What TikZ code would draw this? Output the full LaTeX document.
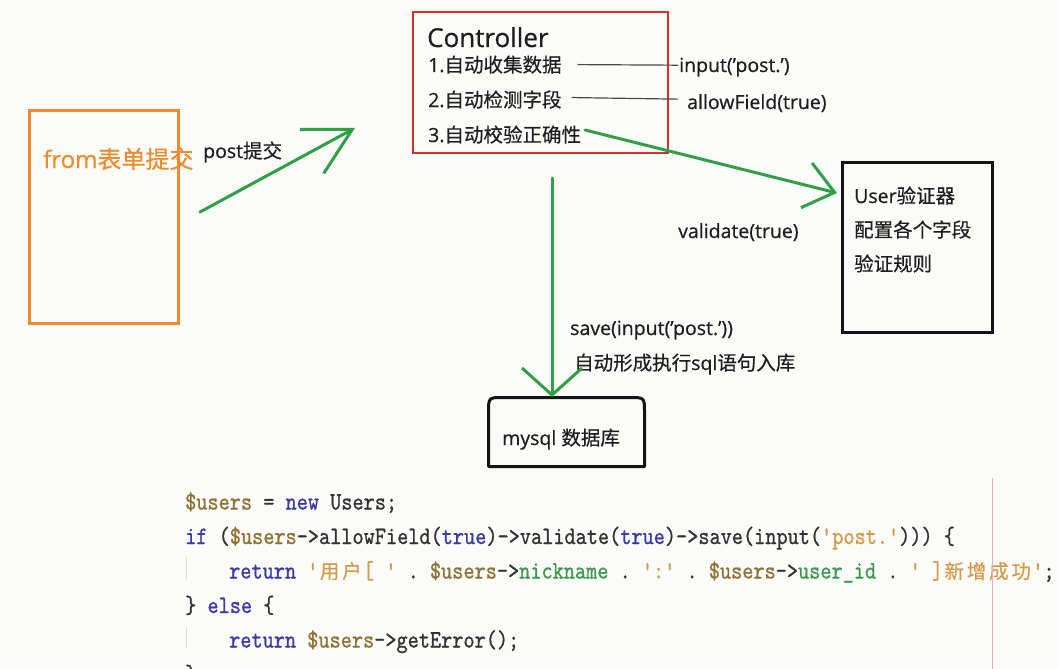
\documentclass[tikz,border=0pt]{standalone}
\usepackage{fontspec}
\setmainfont{Open Sans}[FakeBold=0.6]
\newfontfamily\cjk{Noto Sans CJK SC}[FakeBold=0.4]
\newfontfamily\codefont{lmmono10-regular.otf}[FakeStretch=0.85,FakeBold=0.8]
\usetikzlibrary{arrows.meta}
\definecolor{bg}{HTML}{FBFBF9}
\definecolor{txt}{HTML}{1E1E1E}
\definecolor{orangec}{HTML}{F08A2C}
\definecolor{greenc}{HTML}{2EA046}
\definecolor{redc}{HTML}{D9302C}
\definecolor{boxk}{HTML}{141414}
\definecolor{linec}{HTML}{4A4A4A}
\definecolor{kwc}{HTML}{3A3AAA}
\definecolor{varc}{HTML}{8F7236}
\definecolor{strc}{HTML}{D49A48}
\definecolor{idc}{HTML}{3C9A4E}
\definecolor{codec}{HTML}{333333}
\definecolor{redguide}{HTML}{EBB0B0}
\definecolor{grayguide}{HTML}{DDDDDD}
\newcommand\ckw[1]{\textcolor{kwc}{#1}}
\newcommand\cvar[1]{\textcolor{varc}{#1}}
\newcommand\cstr[1]{\textcolor{strc}{#1}}
\newcommand\cidn[1]{\textcolor{idc}{#1}}
\newlength\cwid \setlength\cwid{11.15pt}
\newcommand\Sp{\hbox to \cwid{}}
\newcommand\ccj[1]{\makebox[2\cwid][c]{\cjk\fontsize{19.5}{19.5}\selectfont #1}}
\newcommand\codesetup{\codefont\fontsize{25}{25}\selectfont}
\begin{document}
\begin{tikzpicture}[x=1pt,y=-1pt,
  lbl/.style={font=\fontsize{19.5}{20}\selectfont, text=txt, inner sep=0pt, anchor=base west},
  boxn/.style={inner sep=0pt, line width=3pt},
  garrow/.style={draw=greenc, line width=3pt, line cap=round, line join=round},
  thinl/.style={draw=linec, line width=1.2pt},
  code/.style={font=\codesetup, text=codec, inner sep=0pt, anchor=base west}]
\useasboundingbox (0,0) rectangle (1058,669);
\fill[bg] (0,0) rectangle (1058,669);

% boxes
\node[boxn, draw=orangec, minimum width=149pt, minimum height=213pt] (form) at (103.5,216.5) {};
\node[boxn, draw=redc, line width=2.6pt, minimum width=255pt, minimum height=141pt] (ctrl) at (540.5,82.5) {};
\node[boxn, draw=boxk, minimum width=150pt, minimum height=170pt] (user) at (917,247) {};
\node[boxn, minimum width=153pt, minimum height=66pt] (db) at (566.5,432) {};
\draw[boxk, line width=3pt, line join=round]
  (db.south west) -- ([yshift=-15pt]db.north west)
  .. controls (db.north west) .. ([xshift=15pt]db.north west)
  -- ([xshift=-15pt]db.north east)
  .. controls (db.north east) .. ([yshift=-15pt]db.north east)
  -- (db.south east) -- cycle;

% texts
\node[lbl, font=\fontsize{24}{24}\selectfont, text=orangec] (formt) at (43,168) {from{\cjk 表单提交}};
\node[lbl] (postt) at (203,158) {post{\cjk 提交}};
\node[lbl, font=\fontsize{26}{26}\selectfont] (ctrlt) at (427,47) {Controller};
\node[lbl] (c1) at (428,72) {1.{\cjk 自动收集数据}};
\node[lbl] (c2) at (428,107) {2.{\cjk 自动检测字段}};
\node[lbl] (c3) at (428,142) {3.{\cjk 自动校验正确性}};
\node[lbl] (inp) at (679,72) {input('post.')};
\node[lbl] (allow) at (687,109) {allowField(true)};
\node[lbl] (valid) at (678,238) {validate(true)};
\node[lbl] (u1t) at (854,203) {User{\cjk 验证器}};
\node[lbl] (u2t) at (854,237) {\cjk 配置各个字段};
\node[lbl] (u3t) at (854,271) {\cjk 验证规则};
\node[lbl] (savet) at (570,335) {save(input('post.'))};
\node[lbl] (sqlt) at (574,370) {{\cjk 自动形成执行}sql{\cjk 语句入库}};
\node[lbl] (dbt) at (502,445) {mysql {\cjk 数据库}};

% thin label lines
\draw[thinl] ([xshift=16pt]c1.east) -- ([xshift=-1pt,yshift=2pt]inp.west);
\draw[thinl] ([xshift=10pt,yshift=2pt]c2.east) -- ([xshift=-9pt,yshift=4pt]allow.west);

% green arrows
\coordinate (p1) at (200,212);
\coordinate (p2) at (355,128);
\draw[garrow, -{Straight Barb[length=46pt,width=50pt]}] (p1) -- (p2);
\coordinate (u1) at (585,130);
\coordinate (u2) at (837,193);
\draw[garrow, -{Straight Barb[length=29pt,width=46pt]}] (u1) -- (u2);
\coordinate (v1) at (552,178);
\coordinate (v2) at (552,397);
\draw[garrow, -{Straight Barb[length=27pt,width=60pt]}] (v1) -- (v2);

% code
\node[code] (l1) at (185,509.5) {\cvar{\$users}\Sp=\Sp\ckw{new}\Sp Users;};
\node[code] (l2) at (185,544) {\ckw{if}\Sp(\cvar{\$users}->allowField(\ckw{true})->validate(\ckw{true})->save(input(\cstr{'post.'})))\Sp\{};
\node[code] (l3) at (229,578.5) {\ckw{return}\Sp\cstr{'\ccj{用}\ccj{户}[\Sp'}\Sp.\Sp\cvar{\$users}->\cidn{nickname}\Sp.\Sp\cstr{':'}\Sp.\Sp\cvar{\$users}->\cidn{user\_id}\Sp.\Sp\cstr{'\Sp]\ccj{新}\ccj{增}\ccj{成}\ccj{功}'};};
\node[code] (l4) at (185,613) {\}\Sp\ckw{else}\Sp\{};
\node[code] (l5) at (229,647.5) {\ckw{return}\Sp\cvar{\$users}->getError();};
\node[code] (l6) at (185,682) {\}};
\draw[grayguide, line width=1pt] (186,557) -- (186,580);
\draw[grayguide, line width=1pt] (186,627) -- (186,648);
\draw[redguide, line width=1pt] (992,478) -- (992,669);
\end{tikzpicture}
\end{document}
